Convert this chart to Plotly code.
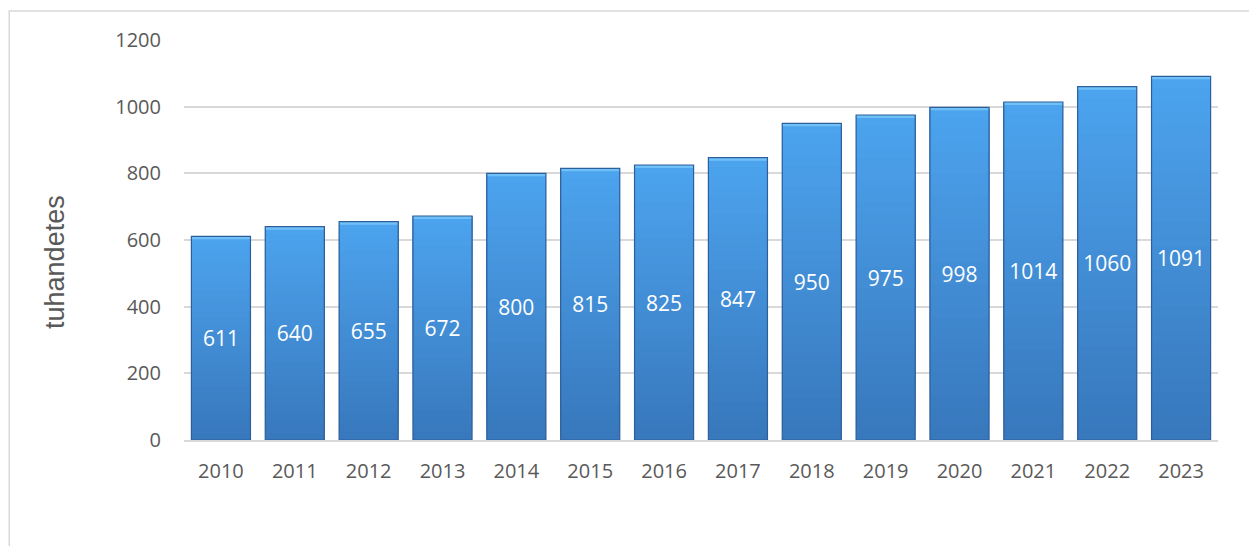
import plotly.graph_objects as go

years = ["2010", "2011", "2012", "2013", "2014", "2015", "2016",
         "2017", "2018", "2019", "2020", "2021", "2022", "2023"]
values = [611, 640, 655, 672, 800, 815, 825, 847, 950, 975, 998, 1014, 1060, 1091]
y_ticks = [0, 200, 400, 600, 800, 1000, 1200]
y_title = "tuhandetes"

top_rgb = (76, 163, 238)
bot_rgb = (56, 120, 188)
N = 30

fig = go.Figure()
for k in range(N):
    t = k / (N - 1)
    c = tuple(int(round(bot_rgb[i] + (top_rgb[i] - bot_rgb[i]) * t)) for i in range(3))
    fig.add_trace(go.Bar(
        x=years,
        y=[v * (N - k) / N for v in values],
        base=[v * k / N for v in values],
        marker=dict(color="rgb(%d,%d,%d)" % c, line=dict(width=0)),
        width=0.8,
        hoverinfo="skip",
        showlegend=False,
    ))

# top bevel highlight
fig.add_trace(go.Bar(
    x=years,
    y=[9] * len(values),
    base=[v - 9 for v in values],
    marker=dict(color="rgb(112,192,248)", line=dict(width=0)),
    width=0.8,
    hoverinfo="skip",
    showlegend=False,
))

# outline + labels
fig.add_trace(go.Bar(
    x=years,
    y=values,
    marker=dict(color="rgba(0,0,0,0)", line=dict(color="rgb(45,95,155)", width=1.2)),
    width=0.8,
    text=[str(v) for v in values],
    textposition="inside",
    insidetextanchor="middle",
    textfont=dict(family="Open Sans, Lato, sans-serif", size=21, color="white"),
    showlegend=False,
))

fig.update_layout(
    width=1257, height=546,
    margin=dict(l=176, r=47, t=32, b=114),
    barmode="overlay",
    plot_bgcolor="white",
    paper_bgcolor="white",
    font=dict(family="Open Sans, Lato, sans-serif", color="#595959"),
    xaxis=dict(
        type="category",
        tickfont=dict(size=20, color="#595959"),
        showline=True, linecolor="#d9d9d9", linewidth=2,
        ticks="", showgrid=False,
        ticklabelstandoff=12,
    ),
    yaxis=dict(
        range=[0, 1200],
        tickvals=y_ticks,
        tickfont=dict(size=20, color="#595959"),
        showgrid=True, gridcolor="#d9d9d9", gridwidth=1.5,
        zeroline=False, showline=False, ticks="",
        ticklabelstandoff=22,
    ),
    annotations=[dict(
        text=y_title, textangle=-90, showarrow=False,
        xref="paper", yref="paper", x=-0.1248, y=0.445,
        xanchor="center", yanchor="middle",
        font=dict(family="Liberation Sans Narrow, Arial Narrow, Liberation Sans, sans-serif", size=27, color="#595959"),
    )],
    shapes=[dict(
        type="rect", xref="paper", yref="paper",
        x0=-0.169, x1=1.0358, y0=-0.3, y1=1.0725,
        line=dict(color="#d9d9d9", width=1.5), fillcolor="rgba(0,0,0,0)", layer="below",
    )],
)

fig.write_html("out.html")
